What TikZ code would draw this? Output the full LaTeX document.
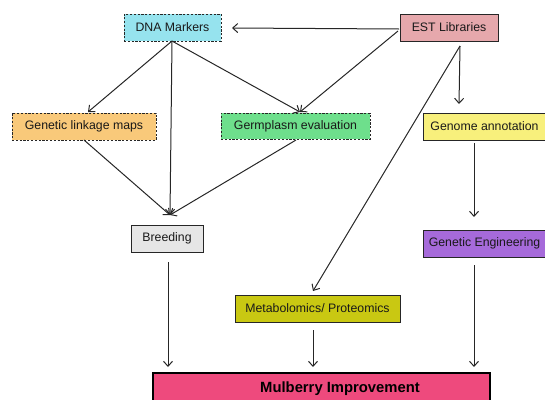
\documentclass[tikz,border=0pt]{standalone}
\usepackage{fontspec}
\setmainfont{Liberation Sans}
\usetikzlibrary{arrows.meta}
\definecolor{cdna}{HTML}{96E3EE}
\definecolor{cest}{HTML}{E6A8AC}
\definecolor{cglm}{HTML}{F9C97A}
\definecolor{cgerm}{HTML}{6EDF8C}
\definecolor{cgen}{HTML}{F8F07C}
\definecolor{cbreed}{HTML}{E6E6E6}
\definecolor{ceng}{HTML}{A66ADA}
\definecolor{cmeta}{HTML}{C9C812}
\definecolor{cmul}{HTML}{EE4A7D}
\begin{document}
\begin{tikzpicture}[x=1pt,y=1pt,
  box/.style={draw=black!85, line width=1pt, rectangle, inner sep=0pt, minimum height=27pt, text=black!90, font=\fontsize{12.3}{14}\selectfont},
  dbox/.style={box, dash pattern=on 2.2pt off 1.6pt},
  arr/.style={-{Straight Barb[length=5pt,width=9pt]}, line width=1pt, black!85}]
\useasboundingbox (0,0) rectangle (545,-399);
\node[dbox, fill=cdna, minimum width=97pt] (dna) at (172.5,-27.5) {DNA Markers};
\node[box, fill=cest, minimum width=98pt] (est) at (449,-27.5) {EST Libraries};
\node[dbox, fill=cglm, minimum width=144pt] (glm) at (84,-126.5) {Genetic linkage maps};
\node[dbox, fill=cgerm, minimum width=149pt, minimum height=26pt] (germ) at (295.5,-126) {Germplasm evaluation};
\node[box, fill=cgen, minimum width=123pt] (genome) at (484.5,-126.5) {Genome annotation};
\node[box, fill=cbreed, minimum width=72pt] (breed) at (167,-238.5) {Breeding};
\node[box, fill=ceng, minimum width=123pt] (geng) at (484.5,-243.5) {Genetic Engineering};
\node[box, fill=cmeta, minimum width=165pt] (meta) at (317.5,-308.5) {Metabolomics/ Proteomics};
\node[draw=black, line width=2.8pt, fill=cmul, minimum width=337pt, minimum height=44pt, inner sep=0pt] (mul) at (321.5,-395) {};
\node[font=\fontsize{14.8}{17}\selectfont\bfseries] (multext) at (340,-389) {Mulberry Improvement};
% endpoints
\coordinate (estL1) at (399,-29);
\coordinate (estL2) at (398,-31);
\coordinate (estB) at (460,-46);
\coordinate (dnaR) at (232,-28);
\coordinate (dnaB) at (172,-41);
\coordinate (germT) at (300,-112);
\coordinate (glmT) at (88,-112);
\coordinate (glmB) at (84,-140);
\coordinate (germB) at (296,-140);
\coordinate (breedT) at (170,-215);
\coordinate (breedB) at (168,-262);
\coordinate (genT) at (459,-104);
\coordinate (genB) at (474,-143);
\coordinate (engT) at (474,-217);
\coordinate (engB) at (474,-265);
\coordinate (metaT) at (313,-291);
\coordinate (metaB) at (313,-330);
\coordinate (mulA) at (168,-367);
\coordinate (mulB) at (313,-367);
\coordinate (mulC) at (474,-367);
\draw[arr] (estL1) -- (dnaR);
\draw[arr] (estL2) -- (germT);
\draw[arr] (estB) -- (genT);
\draw[arr] (estB) -- (metaT);
\draw[arr] (dnaB) -- (glmT);
\draw[arr] (dnaB) -- (breedT);
\draw[arr] (dnaB) -- (germT);
\draw[arr] (glmB) -- (breedT);
\draw[arr] (germB) -- (breedT);
\draw[arr] (genB) -- (engT);
\draw[arr] (breedB) -- (mulA);
\draw[arr] (metaB) -- (mulB);
\draw[arr] (engB) -- (mulC);
\end{tikzpicture}
\end{document}
